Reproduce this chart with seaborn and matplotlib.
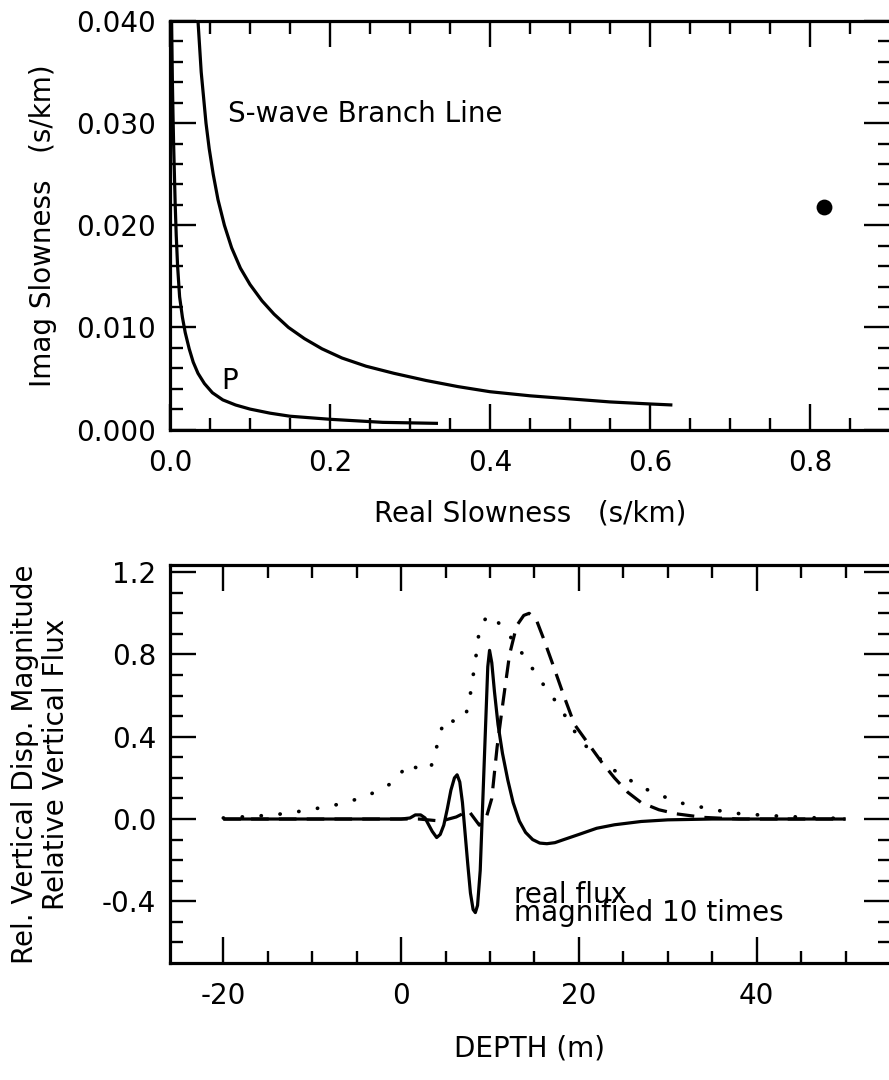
import numpy as np
import matplotlib
matplotlib.use("Agg")
import matplotlib.pyplot as plt
from matplotlib.ticker import FixedLocator, FixedFormatter
import seaborn as sns

# ---- slowness branch lines (complex slowness plane) ----
s_real = [0.035, 0.037, 0.039, 0.042, 0.045, 0.049, 0.054, 0.060, 0.068, 0.077,
          0.088, 0.100, 0.115, 0.130, 0.148, 0.168, 0.190, 0.215, 0.245, 0.280,
          0.320, 0.360, 0.400, 0.450, 0.500, 0.550, 0.600, 0.628]
s_imag = [0.0400, 0.0375, 0.0350, 0.0325, 0.0300, 0.0275, 0.0250, 0.0225, 0.0200, 0.0178,
          0.0158, 0.0142, 0.0126, 0.0113, 0.0100, 0.0089, 0.0079, 0.0070, 0.0062, 0.0055,
          0.0048, 0.0042, 0.0037, 0.0033, 0.0030, 0.0027, 0.0025, 0.0024]

p_real = [0.002, 0.0025, 0.003, 0.0037, 0.0045, 0.0055, 0.0065, 0.0078, 0.0095, 0.012,
          0.0155, 0.019, 0.024, 0.029, 0.035, 0.043, 0.053, 0.066, 0.082, 0.100,
          0.125, 0.150, 0.200, 0.266, 0.335]
p_imag = [0.0400, 0.0370, 0.0340, 0.0310, 0.0280, 0.0250, 0.0220, 0.0190, 0.0160, 0.0130,
          0.0110, 0.0095, 0.0079, 0.0066, 0.0055, 0.0045, 0.0036, 0.0029, 0.0024, 0.0020,
          0.0016, 0.0013, 0.0010, 0.0007, 0.0006]

pole_real = [0.8175]
pole_imag = [0.0218]

# ---- depth profiles ----
flux_depth = [-20, -10, 0, 1.0, 1.6, 2.2, 2.7, 3.0, 3.5, 4.0, 4.4, 4.8, 5.2, 5.6,
              6.0, 6.3, 6.6, 6.9, 7.2, 7.5, 7.8, 8.1, 8.35, 8.6, 8.9, 9.2, 9.5,
              9.75, 9.95, 10.2, 10.5, 10.9, 11.4, 12.0, 12.6, 13.3, 14.0, 14.8,
              15.6, 16.4, 17.3, 18.3, 20.0, 22.0, 24.0, 27.0, 30.0, 35.0, 50.0]
flux_value = [0.0, 0.0, 0.0, 0.005, 0.02, 0.02, 0.005, -0.02, -0.06, -0.09, -0.075,
              -0.03, 0.05, 0.14, 0.20, 0.215, 0.18, 0.08, -0.07, -0.22, -0.36, -0.44,
              -0.455, -0.42, -0.25, 0.10, 0.45, 0.74, 0.82, 0.76, 0.62, 0.46, 0.32,
              0.19, 0.08, -0.01, -0.065, -0.10, -0.117, -0.12, -0.115, -0.10, -0.075,
              -0.045, -0.028, -0.012, -0.004, 0.0, 0.0]

disp_depth = [-20, 2, 4.5, 6.2, 7.6, 8.8, 9.6, 10.2, 10.8, 11.5, 12.2, 13.0, 13.8,
              14.4, 15.2, 16.0, 17.0, 18.3, 19.5, 21.0, 22.5, 24.0, 25.5, 27.0, 29.0,
              31.0, 34.0, 38.0, 50.0]
disp_value = [0.0, 0.0, -0.01, 0.01, 0.04, -0.03, 0.01, 0.10, 0.35, 0.58, 0.80, 0.94,
              0.99, 1.0, 0.97, 0.88, 0.76, 0.60, 0.46, 0.37, 0.28, 0.20, 0.13, 0.08,
              0.045, 0.025, 0.008, 0.0, 0.0]

mag_depth = [-20, -18, -16, -14, -12, -10, -8, -6, -4, -2, -0.5, 0.7, 1.9, 3.3, 3.9,
             4.3, 5.0, 6.2, 7.3, 7.7, 8.0, 8.3, 8.8, 9.7, 10.5, 11.2, 12.4, 13.7, 14.8,
             15.9, 17.1, 18.2, 19.3, 20.4, 21.7, 23.4, 25.1, 26.7, 28.7, 30.6, 32.4,
             34.5, 36.5, 38.5, 40.7, 42.5, 44.6, 46.4, 48.5, 50.0]
mag_value = [0.005, 0.01, 0.015, 0.022, 0.033, 0.048, 0.062, 0.083, 0.11, 0.15, 0.19,
             0.27, 0.245, 0.245, 0.33, 0.41, 0.49, 0.47, 0.51, 0.58, 0.67, 0.75, 0.92,
             0.99, 0.98, 0.94, 0.88, 0.80, 0.73, 0.66, 0.59, 0.52, 0.44, 0.37, 0.32,
             0.25, 0.21, 0.16, 0.125, 0.09, 0.067, 0.053, 0.034, 0.024, 0.019, 0.014,
             0.01, 0.006, 0.004, 0.003]

# ---- tick labels ----
top_xticks = [0.0, 0.2, 0.4, 0.6, 0.8]
top_xlabels = ["0.0", "0.2", "0.4", "0.6", "0.8"]
top_yticks = [0.0, 0.01, 0.02, 0.03, 0.04]
top_ylabels = ["0.000", "0.010", "0.020", "0.030", "0.040"]
bot_xticks = [-20, 0, 20, 40]
bot_xlabels = ["-20", "0", "20", "40"]
bot_yticks = [-0.4, 0.0, 0.4, 0.8, 1.2]
bot_ylabels = ["-0.4", "0.0", "0.4", "0.8", "1.2"]

sns.set_theme(style="ticks")
plt.rcParams["font.family"] = ["DejaVu Sans"]
plt.rcParams["axes.unicode_minus"] = False

FS = 20
INK = "black"
LW = 2.3

fig = plt.figure(figsize=(8.89, 10.8), dpi=100)
W, H = 889.0, 1080.0


def frame(ax, xmaj, xlab, xmin, ymaj, ylab, ymin):
    ax.xaxis.set_major_locator(FixedLocator(xmaj))
    ax.xaxis.set_major_formatter(FixedFormatter(xlab))
    ax.xaxis.set_minor_locator(FixedLocator(xmin))
    ax.yaxis.set_major_locator(FixedLocator(ymaj))
    ax.yaxis.set_major_formatter(FixedFormatter(ylab))
    ax.yaxis.set_minor_locator(FixedLocator(ymin))
    ax.tick_params(which="both", direction="in", top=True, right=True,
                   color=INK, width=1.7, labelsize=FS, labelcolor=INK)
    ax.tick_params(which="major", length=19)
    ax.tick_params(which="minor", length=9)
    ax.tick_params(axis="x", which="both", pad=14)
    ax.tick_params(axis="y", which="both", pad=10)
    for side in ("left", "top", "bottom"):
        ax.spines[side].set_linewidth(2.3)
        ax.spines[side].set_color(INK)
    ax.spines["right"].set_visible(False)
    ax.grid(False)
    ax.set_facecolor("white")


line_kw = dict(color=INK, sort=False, estimator=None,
               solid_joinstyle="round", solid_capstyle="butt")

# ---------------- upper panel ----------------
ax1 = fig.add_axes([170 / W, 1 - 429.5 / H, 720 / W, 408.5 / H])
sns.lineplot(x=s_real, y=s_imag, ax=ax1, lw=LW, **line_kw)
sns.lineplot(x=p_real, y=p_imag, ax=ax1, lw=LW, **line_kw)
sns.scatterplot(x=pole_real, y=pole_imag, ax=ax1, color=INK, s=130,
                edgecolor=INK, linewidth=0)
ax1.set_xlim(0.0, 0.9)
ax1.set_ylim(0.0, 0.040)
frame(ax1, top_xticks, top_xlabels, np.arange(0.05, 0.9, 0.05),
      top_yticks, top_ylabels, np.arange(0.002, 0.04, 0.002))
ax1.set_xlabel("Real Slowness   (s/km)", fontsize=FS, color=INK)
ax1.set_ylabel("Imag Slowness   (s/km)", fontsize=FS, color=INK)
ax1.xaxis.set_label_coords(0.5, -0.172)
ax1.yaxis.set_label_coords(-0.157, 0.5)
ax1.text(0.0725, 0.0301, "S-wave Branch Line", fontsize=FS, color=INK,
         ha="left", va="baseline")
ax1.text(0.064, 0.0040, "P", fontsize=FS, color=INK, ha="left", va="baseline")

# ---------------- lower panel ----------------
ax2 = fig.add_axes([170 / W, 1 - 963 / H, 720 / W, 398 / H])
sns.lineplot(x=mag_depth, y=mag_value, ax=ax2, color=INK, lw=2.7, sort=False,
             estimator=None, linestyle=(0, (0.05, 5.0)), dash_capstyle="round")
sns.lineplot(x=disp_depth, y=disp_value, ax=ax2, color=INK, lw=LW, sort=False,
             estimator=None, linestyle=(0, (5.5, 3.2)), dash_capstyle="butt")
sns.lineplot(x=flux_depth, y=flux_value, ax=ax2, lw=LW, **line_kw)
ax2.set_xlim(-26, 55)
ax2.set_ylim(-0.7, 1.235)
frame(ax2, bot_xticks, bot_xlabels, np.arange(-15, 51, 5),
      bot_yticks, bot_ylabels, np.round(np.arange(-0.6, 1.21, 0.1), 2))
ax2.set_xlabel("DEPTH (m)", fontsize=FS, color=INK)
ax2.set_ylabel("Rel. Vertical Disp. Magnitude\nRelative Vertical Flux",
               fontsize=FS, color=INK, linespacing=1.15)
ax2.xaxis.set_label_coords(0.5, -0.18)
ax2.yaxis.set_label_coords(-0.139, 0.5)
ax2.text(12.7, -0.301, "real flux\nmagnified 10 times", fontsize=20, color=INK,
         ha="left", va="top", linespacing=0.55)

for ax in (ax1, ax2):
    leg = ax.get_legend()
    if leg is not None:
        leg.remove()

fig.savefig("out.png", dpi=100, facecolor="white")
